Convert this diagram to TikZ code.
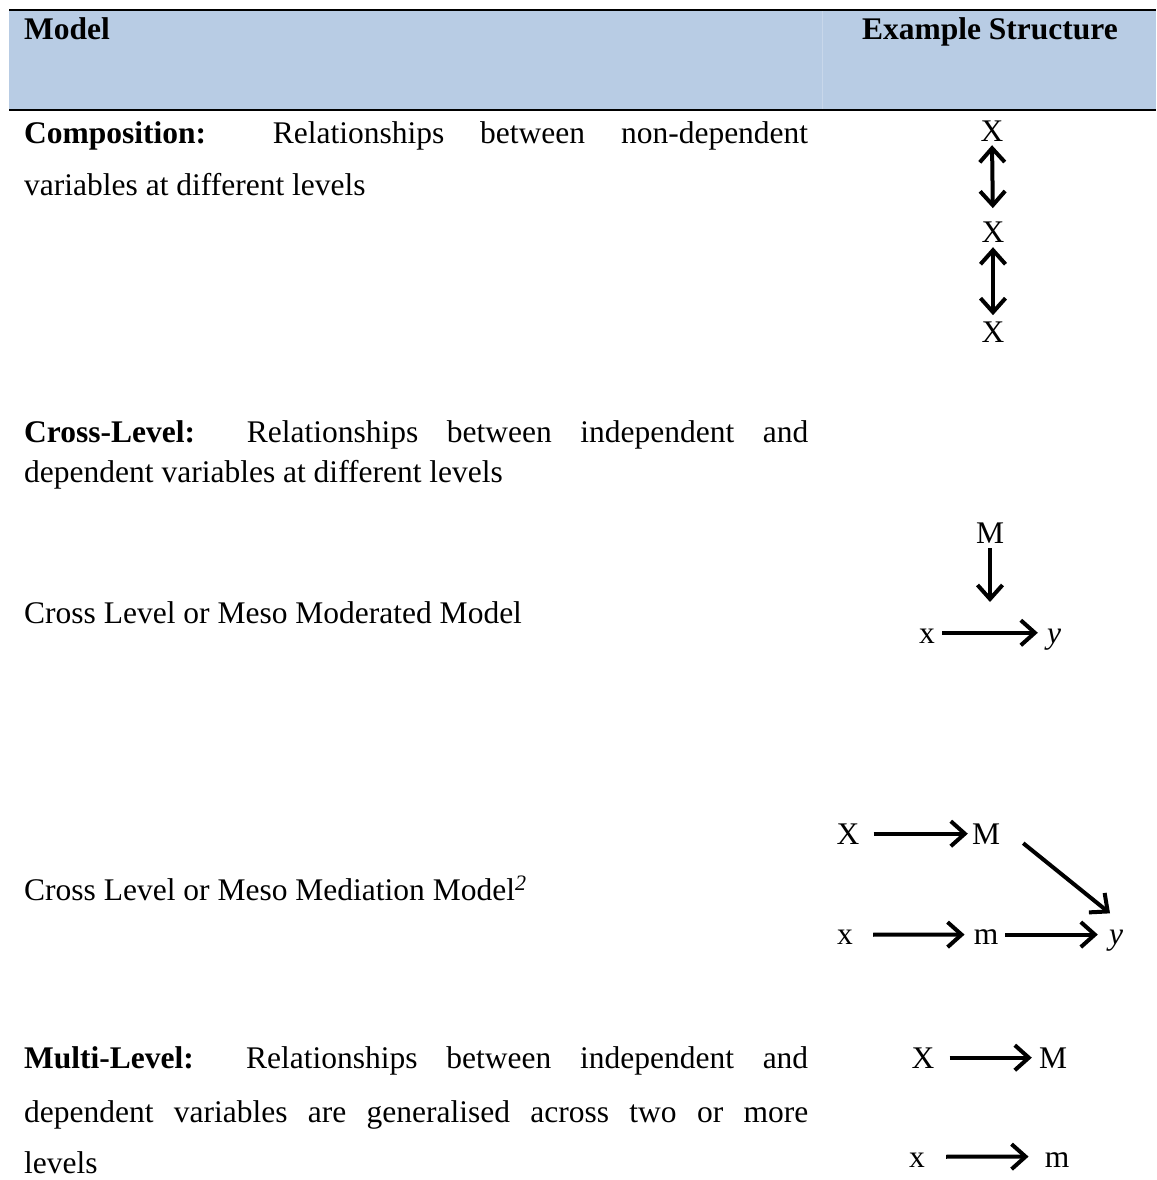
\documentclass[tikz,border=0pt]{standalone}
\usepackage{fontspec}
\setmainfont{Liberation Serif}
\usetikzlibrary{arrows.meta}
\definecolor{headblue}{HTML}{B8CCE4}
\definecolor{headline}{HTML}{C8D7EA}
\begin{document}
\begin{tikzpicture}[x=1pt,y=-1pt,
  every node/.style={inner sep=0pt, font=\fontsize{31.5}{38}\selectfont},
  txt/.style={anchor=base west},
  sym/.style={anchor=base},
  barb/.tip={Straight Barb[length=14pt,width=25pt]},
  link/.style={line width=4pt, -barb},
  twoway/.style={line width=4pt, barb-barb}]
\useasboundingbox (0,0) rectangle (1156,1180);
% header band with rules
\fill[headblue] (9,10) rectangle (1156,110);
\draw[headline, line width=1pt] (822,11) -- (822,109);
\draw[line width=2.5pt] (9,10) -- (1156,10);
\draw[line width=2.5pt] (9,110) -- (1156,110);
\node[txt] (hmodel) at (24,40) {\textbf{Model}};
\node[anchor=base east] (hstruct) at (1118,40) {\textbf{Example Structure}};
% left column
\node[txt] (c1) at (24,143) {\makebox[784pt][s]{\textbf{Composition:} Relationships between non-dependent}};
\node[txt] (c2) at (24,195) {variables at different levels};
\node[txt] (k1) at (24,442) {\makebox[784pt][s]{\textbf{Cross-Level:} Relationships between independent and}};
\node[txt] (k2) at (24,482) {dependent variables at different levels};
\node[txt] (mod) at (24,623) {Cross Level or Meso Moderated Model};
\node[txt] (med) at (24,900) {Cross Level or Meso Mediation Model\textsuperscript{\itshape 2}};
\node[txt] (m1) at (24,1068) {\makebox[784pt][s]{\textbf{Multi-Level:} Relationships between independent and}};
\node[txt] (m2) at (24,1122) {\makebox[784pt][s]{dependent variables are generalised across two or more}};
\node[txt] (m3) at (24,1173) {levels};
% composition structure
\node[sym] (cx1) at (992,142) {X};
\node[sym] (cx2) at (993,242) {X};
\node[sym] (cx3) at (993,342) {X};
\draw[twoway, shorten <=3pt, shorten >=13pt] (cx1.south) -- (cx2.north);
\draw[twoway, shorten <=5pt, shorten >=6pt] (cx2.south) -- (cx3.north);
% moderated structure
\node[sym] (dM) at (990,543) {M};
\node[sym] (dx) at (927,643) {x};
\node[sym] (dy) at (1054,643) {\itshape y};
\coordinate (dmid) at (990,602);
\draw[link, shorten <=5pt] (dM.south) -- (dmid);
\draw[link, shorten <=7pt, shorten >=9pt] ([yshift=3pt]dx.east) -- ([yshift=3pt]dy.west |- dx.east);
% mediation structure
\node[sym] (eX) at (848,844) {X};
\node[sym] (eM) at (986,844) {M};
\node[sym] (ex) at (845,944) {x};
\node[sym] (em) at (986,944) {m};
\node[sym] (ey) at (1116,944) {\itshape y};
\draw[link, shorten <=14pt, shorten >=4pt] (eX.east) -- (eM.west);
\draw[link, shorten <=20pt, shorten >=9pt] ([yshift=2pt]ex.east) -- ([yshift=2pt]em.west);
\draw[link, shorten <=7pt, shorten >=11pt] ([yshift=2pt]em.east) -- ([yshift=2pt]ey.west |- em.east);
\draw[link] ([xshift=23pt,yshift=1pt]eM.south east) -- ([xshift=-6pt,yshift=16pt]ey.north);
% multi-level structure
\node[sym] (fX) at (923,1068) {X};
\node[sym] (fM) at (1053,1068) {M};
\node[sym] (fx) at (917,1167) {x};
\node[sym] (fm) at (1057,1167) {m};
\draw[link, shorten <=15pt, shorten >=7pt] (fX.east) -- (fM.west);
\draw[link, shorten <=21pt, shorten >=16pt] ([yshift=3pt]fx.east) -- ([yshift=3pt]fm.west);
\end{tikzpicture}
\end{document}
